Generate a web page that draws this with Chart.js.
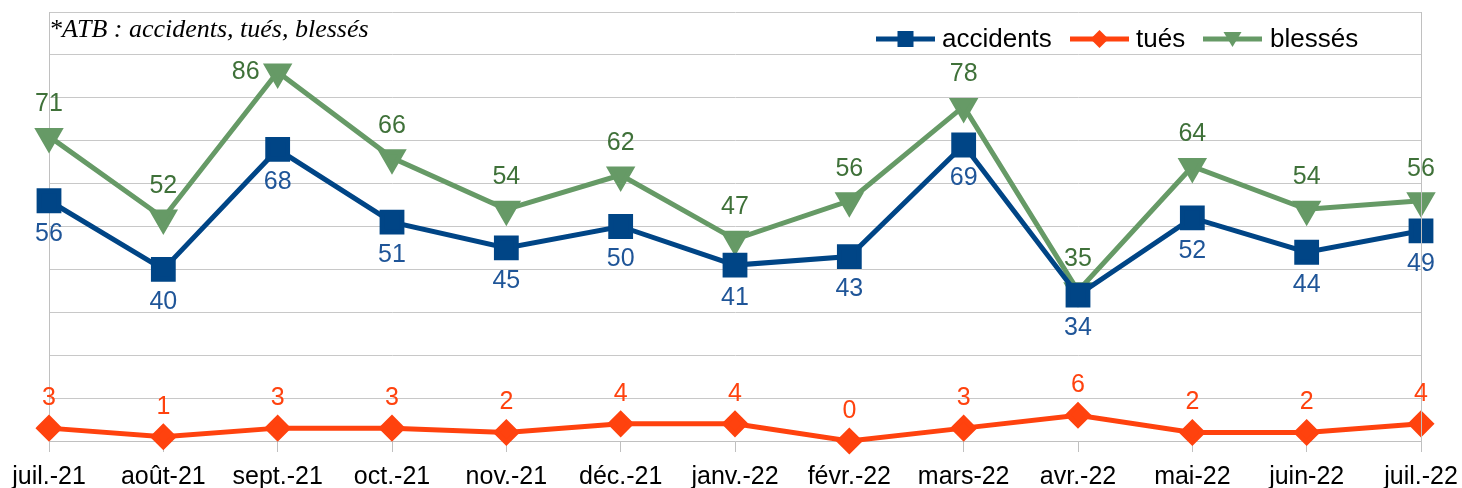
<!DOCTYPE html>
<html><head><meta charset="utf-8">
<script src="https://cdn.jsdelivr.net/npm/chart.js@4/dist/chart.umd.min.js"></script>
<style>html,body{margin:0;padding:0;background:#fff}#w{width:1462px;height:488px}</style>
</head><body><div id="w"><canvas id="c" width="1462" height="488"></canvas></div>
<script>
const categories = ["juil.-21","août-21","sept.-21","oct.-21","nov.-21","déc.-21","janv.-22","févr.-22","mars-22","avr.-22","mai-22","juin-22","juil.-22"];
const accidents = [56,40,68,51,45,50,41,43,69,34,52,44,49];
const tues = [3,1,3,3,2,4,4,0,3,6,2,2,4];
const blesses = [71,52,86,66,54,62,47,56,78,35,64,54,56];
const titleText = "*ATB : accidents, tués, blessés";
const seriesNames = ["accidents","tués","blessés"];

const C_ACC = "#004586", C_TUE = "#ff420e", C_BLE = "#669a66";
const L_ACC = "#1f5598", L_TUE = "#ff420e", L_BLE = "#3f7139";
const FONT = "'Liberation Sans', Arial, sans-serif";

const deco = {
  id: 'deco',
  afterDatasetsDraw(chart) {
    const ctx = chart.ctx, a = chart.chartArea;
    ctx.save();
    ctx.strokeStyle = '#c0c0c0'; ctx.lineWidth = 1;
    ctx.beginPath(); ctx.moveTo(Math.round(a.right)+0.5, a.top); ctx.lineTo(Math.round(a.right)+0.5, a.bottom); ctx.stroke();
    ctx.font = "25px " + FONT; ctx.textAlign = 'center'; ctx.textBaseline = 'middle';
    const cfg = [{off: 33, col: L_ACC}, {off: -30, col: L_TUE}, {off: -32, col: L_BLE}];
    chart.data.datasets.forEach((ds, i) => {
      const meta = chart.getDatasetMeta(i);
      meta.data.forEach((pt, j) => {
        ctx.fillStyle = cfg[i].col;
        let x = pt.x, y = pt.y + cfg[i].off;
        if (cfg[i].off < 0 && y < a.top + 40) { x = pt.x - 32; y = pt.y; }
        ctx.fillText(String(ds.data[j]), x, y);
      });
    });
    ctx.font = "italic 26px 'Liberation Serif', 'Times New Roman', serif";
    ctx.fillStyle = '#000'; ctx.textAlign = 'left';
    ctx.fillText(titleText, a.left, 30);
    const items = [
      {x: 876, tx: 942, text: seriesNames[0], col: C_ACC, style: 'rect'},
      {x: 1070, tx: 1136, text: seriesNames[1], col: C_TUE, style: 'rectRot'},
      {x: 1203, tx: 1270, text: seriesNames[2], col: C_BLE, style: 'triangle'}
    ];
    const ly = 39;
    items.forEach(it => {
      ctx.strokeStyle = it.col; ctx.lineWidth = 5;
      ctx.beginPath(); ctx.moveTo(it.x, ly); ctx.lineTo(it.x + 59, ly); ctx.stroke();
      ctx.fillStyle = it.col;
      const cx = it.x + 29.5;
      if (it.style === 'rect') ctx.fillRect(cx - 8, ly - 8, 16, 16);
      else if (it.style === 'rectRot') { ctx.beginPath(); ctx.moveTo(cx, ly-9); ctx.lineTo(cx+9, ly); ctx.lineTo(cx, ly+9); ctx.lineTo(cx-9, ly); ctx.closePath(); ctx.fill(); }
      else { ctx.beginPath(); ctx.moveTo(cx-9, ly-7); ctx.lineTo(cx+9, ly-7); ctx.lineTo(cx, ly+8); ctx.closePath(); ctx.fill(); }
      ctx.fillStyle = '#000'; ctx.font = "26px " + FONT; ctx.textAlign = 'left';
      ctx.fillText(it.text, it.tx, ly + 1);
    });
    ctx.restore();
  }
};

new Chart(document.getElementById('c'), {
  type: 'line',
  data: {
    labels: categories,
    datasets: [
      {label: seriesNames[0], data: accidents, borderColor: C_ACC, backgroundColor: C_ACC, borderWidth: 5, pointStyle: 'rect', pointRadius: 14, pointHoverRadius: 14, tension: 0, clip: false},
      {label: seriesNames[1], data: tues, borderColor: C_TUE, backgroundColor: C_TUE, borderWidth: 5, pointStyle: 'rectRot', pointRadius: 10, pointHoverRadius: 10, tension: 0, clip: false},
      {label: seriesNames[2], data: blesses, borderColor: C_BLE, backgroundColor: C_BLE, borderWidth: 5, pointStyle: 'triangle', pointRotation: 180, pointRadius: 12, pointHoverRadius: 12, tension: 0, clip: false}
    ]
  },
  options: {
    responsive: false, animation: false, devicePixelRatio: 1,
    layout: {autoPadding: false, padding: {left: 49, right: 41, top: 12, bottom: 0}},
    plugins: {legend: {display: false}, tooltip: {enabled: false}, title: {display: false}},
    scales: {
      x: {
        offset: false,
        grid: {drawOnChartArea: false, drawTicks: true, tickLength: 11, color: '#c0c0c0'},
        border: {display: true, color: '#c0c0c0'},
        ticks: {font: {family: FONT, size: 25}, color: '#000', padding: 10, maxRotation: 0, autoSkip: false},
        afterFit(s) { s.height = 47; s.paddingLeft = 0; s.paddingRight = 0; }
      },
      y: {
        min: 0, max: 100,
        ticks: {display: false, stepSize: 10},
        grid: {color: '#c8c8c8', drawTicks: false},
        border: {display: true, color: '#c0c0c0'},
        afterFit(s) { s.width = 0; s.paddingTop = 0; s.paddingBottom = 0; }
      }
    }
  },
  plugins: [deco]
});
</script></body></html>
